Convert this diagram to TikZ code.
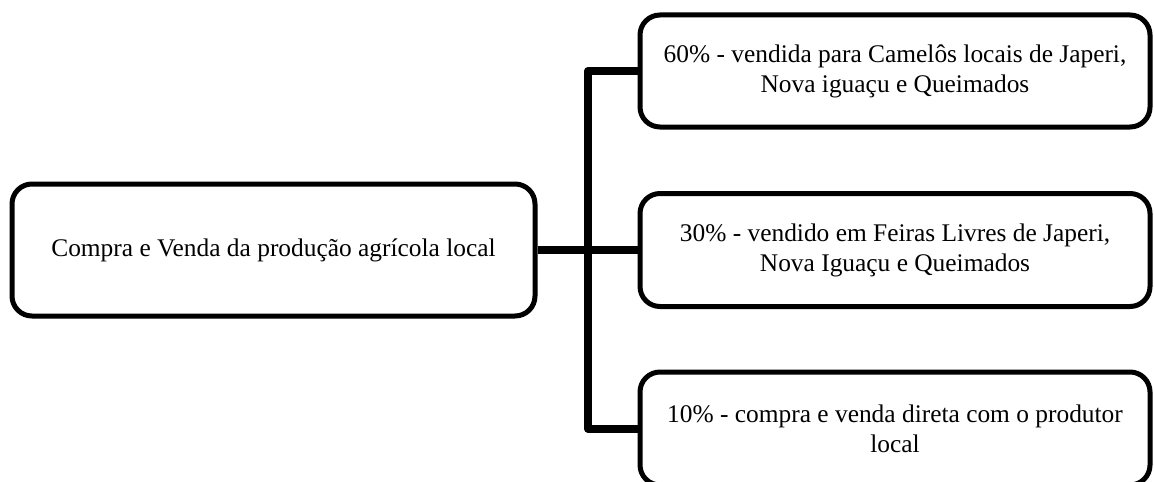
\documentclass[tikz,border=0pt]{standalone}
\usepackage{fontspec}
\setmainfont{Liberation Serif}
\usetikzlibrary{shadows,backgrounds}

\tikzset{
  caixa/.style={draw, line width=2.5pt, rounded corners=10pt, fill=white,
    align=center, font=\fontsize{12.7}{15}\selectfont,
    drop shadow={opacity=0.25, shadow xshift=1pt, shadow yshift=-1pt}},
  ramo/.style={line width=4pt, line join=round},
}

\begin{document}
\begin{tikzpicture}[x=0.5pt,y=-0.5pt]
\useasboundingbox (0,0) rectangle (1154,481);
\clip (0,0) rectangle (1154,481);
\node[caixa, minimum width=261.5pt, minimum height=66pt] (origem) at (273.5,250)
  {Compra e Venda da produção agrícola local};
\node[caixa, minimum width=255pt, minimum height=56pt] (camelos) at (895,71)
  {60\% - vendida para Camelôs locais de Japeri,\\Nova iguaçu e Queimados};
\node[caixa, minimum width=255pt, minimum height=56.5pt] (feiras) at (895,250)
  {30\% - vendido em Feiras Livres de Japeri,\\Nova Iguaçu e Queimados};
\node[caixa, minimum width=255pt, minimum height=56.5pt] (produtor) at (895,428.5)
  {10\% - compra e venda direta com o produtor\\local};
\coordinate (topo) at (588,71);
\coordinate (base) at (588,428.5);
\coordinate (meio) at (588,250);
\begin{scope}[on background layer]
  \draw[ramo, gray!40, opacity=0.6, xshift=1.5pt, yshift=-1.5pt]
    (camelos.west) -- (topo) -- (base) -- (produtor.west);
  \draw[ramo, gray!40, opacity=0.6, xshift=1.5pt, yshift=-1.5pt] (origem.east) -- (meio);
  \draw[ramo] (camelos.west) -- (topo) -- (base) -- (produtor.west);
  \draw[ramo] (origem.east) -- (meio) -- (feiras.west);
\end{scope}
\end{tikzpicture}
\end{document}
